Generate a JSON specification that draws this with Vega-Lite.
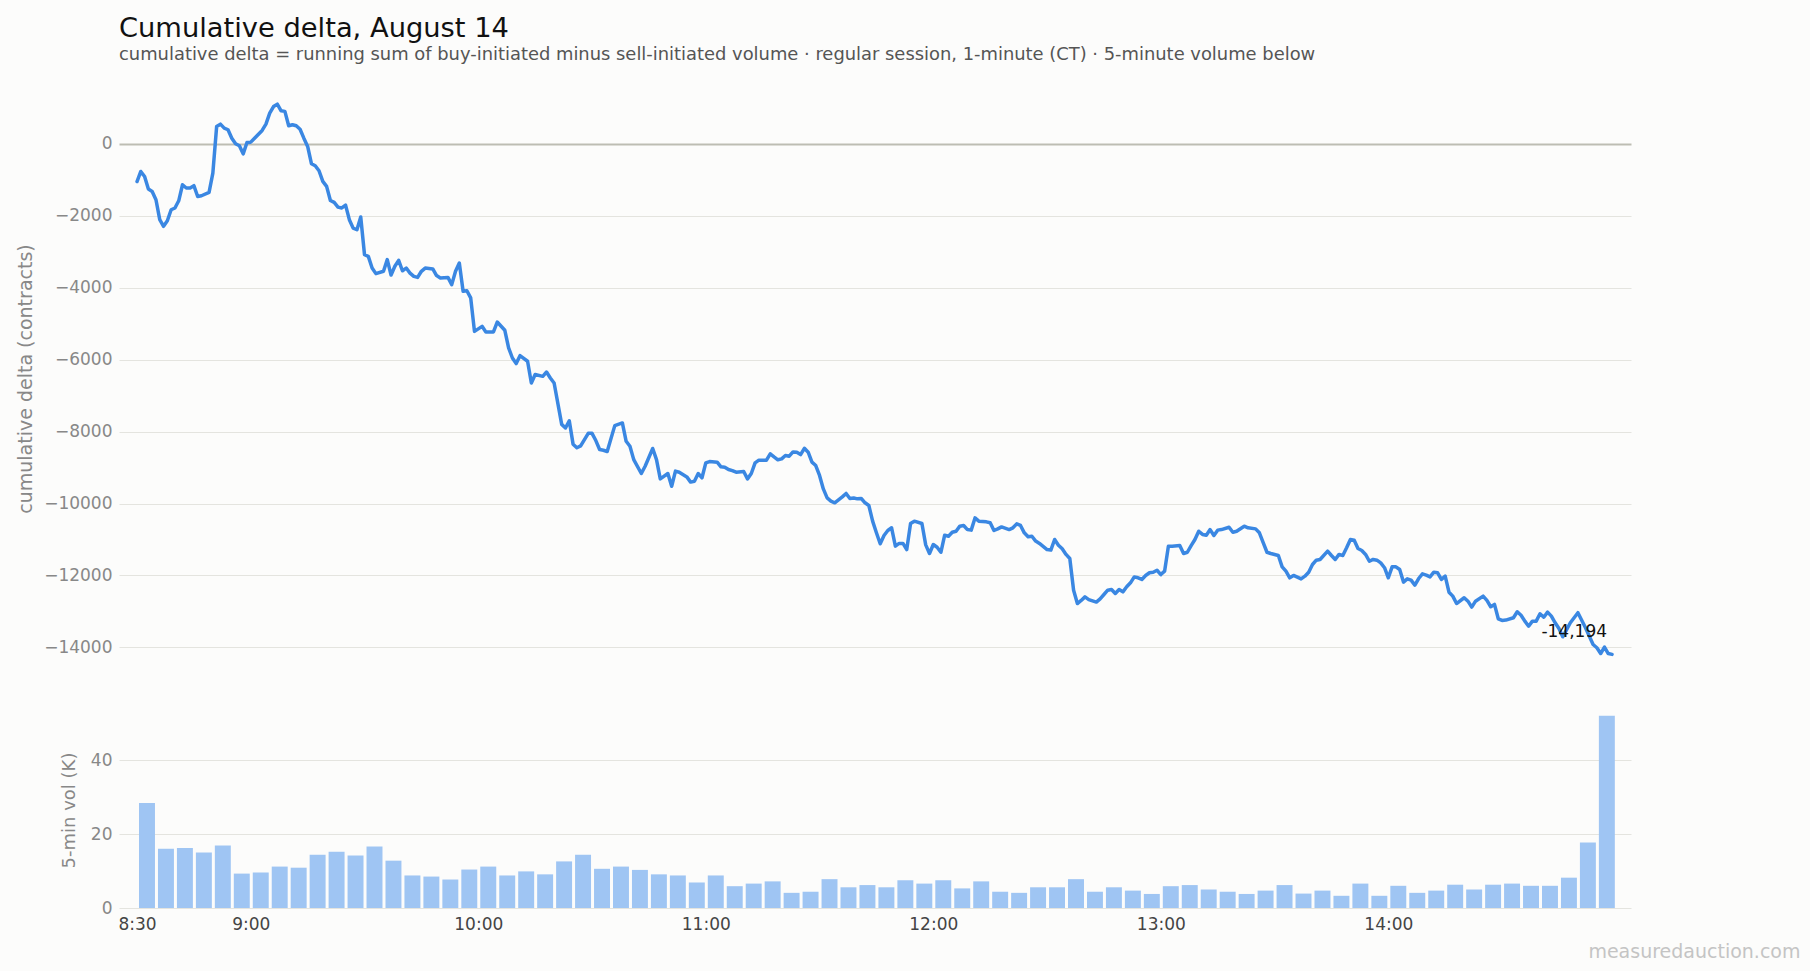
{
  "$schema": "https://vega.github.io/schema/vega-lite/v6.json",
  "background": "#fcfcfb",
  "padding": {"left": 16, "top": 14, "right": 10, "bottom": 10},
  "title": {
    "text": "Cumulative delta, August 14",
    "subtitle": "cumulative delta = running sum of buy-initiated minus sell-initiated volume · regular session, 1-minute (CT) · 5-minute volume below",
    "anchor": "start",
    "frame": "group",
    "fontSize": 27.3,
    "fontWeight": "normal",
    "color": "#111111",
    "subtitleFontSize": 17.9,
    "subtitleColor": "#555555",
    "subtitlePadding": 4,
    "offset": 33
  },
  "bounds": "flush",
  "spacing": 52,
  "vconcat": [
    {
      "width": 1512,
      "height": 563,
      "data": {
        "format": {"parse": {"t": "date:'%H:%M'"}},
        "values": [
          {"t":"08:30","v":-1050},{"t":"08:31","v":-770},{"t":"08:32","v":-910},{"t":"08:33","v":-1260},{"t":"08:34","v":-1325},
          {"t":"08:35","v":-1555},{"t":"08:36","v":-2110},{"t":"08:37","v":-2295},{"t":"08:38","v":-2140},{"t":"08:39","v":-1835},
          {"t":"08:40","v":-1785},{"t":"08:41","v":-1585},{"t":"08:42","v":-1140},{"t":"08:43","v":-1230},{"t":"08:44","v":-1230},
          {"t":"08:45","v":-1165},{"t":"08:46","v":-1465},{"t":"08:47","v":-1445},{"t":"08:49","v":-1350},{"t":"08:50","v":-815},
          {"t":"08:51","v":480},{"t":"08:52","v":545},{"t":"08:53","v":435},{"t":"08:54","v":390},{"t":"08:55","v":155},
          {"t":"08:56","v":0},{"t":"08:57","v":-55},{"t":"08:58","v":-280},{"t":"08:59","v":35},{"t":"09:00","v":45},
          {"t":"09:01","v":155},{"t":"09:03","v":370},{"t":"09:04","v":545},{"t":"09:05","v":850},{"t":"09:06","v":1035},
          {"t":"09:07","v":1100},{"t":"09:08","v":915},{"t":"09:09","v":900},{"t":"09:10","v":500},{"t":"09:11","v":530},
          {"t":"09:12","v":500},{"t":"09:13","v":405},{"t":"09:14","v":155},{"t":"09:15","v":-75},{"t":"09:16","v":-555},
          {"t":"09:17","v":-610},{"t":"09:18","v":-750},{"t":"09:19","v":-1045},{"t":"09:20","v":-1185},{"t":"09:21","v":-1575},
          {"t":"09:22","v":-1630},{"t":"09:23","v":-1760},{"t":"09:24","v":-1785},{"t":"09:25","v":-1705},{"t":"09:26","v":-2110},
          {"t":"09:27","v":-2345},{"t":"09:28","v":-2390},{"t":"09:29","v":-2035},{"t":"09:30","v":-3085},{"t":"09:31","v":-3130},
          {"t":"09:32","v":-3455},{"t":"09:33","v":-3610},{"t":"09:35","v":-3545},{"t":"09:36","v":-3220},{"t":"09:37","v":-3650},
          {"t":"09:38","v":-3405},{"t":"09:39","v":-3240},{"t":"09:40","v":-3530},{"t":"09:41","v":-3455},{"t":"09:42","v":-3595},
          {"t":"09:43","v":-3685},{"t":"09:44","v":-3715},{"t":"09:45","v":-3545},{"t":"09:46","v":-3455},{"t":"09:48","v":-3480},
          {"t":"09:49","v":-3665},{"t":"09:50","v":-3730},{"t":"09:52","v":-3715},{"t":"09:53","v":-3915},{"t":"09:54","v":-3545},
          {"t":"09:55","v":-3315},{"t":"09:56","v":-4100},{"t":"09:57","v":-4085},{"t":"09:58","v":-4285},{"t":"09:59","v":-5215},
          {"t":"10:01","v":-5075},{"t":"10:02","v":-5230},{"t":"10:04","v":-5230},{"t":"10:05","v":-4955},{"t":"10:07","v":-5185},
          {"t":"10:08","v":-5675},{"t":"10:09","v":-5955},{"t":"10:10","v":-6110},{"t":"10:11","v":-5890},{"t":"10:13","v":-6045},
          {"t":"10:14","v":-6650},{"t":"10:15","v":-6415},{"t":"10:17","v":-6465},{"t":"10:18","v":-6345},{"t":"10:19","v":-6510},
          {"t":"10:20","v":-6650},{"t":"10:22","v":-7800},{"t":"10:23","v":-7900},{"t":"10:24","v":-7700},{"t":"10:25","v":-8350},
          {"t":"10:26","v":-8450},{"t":"10:27","v":-8400},{"t":"10:29","v":-8050},{"t":"10:30","v":-8050},{"t":"10:31","v":-8250},
          {"t":"10:32","v":-8500},{"t":"10:33","v":-8520},{"t":"10:34","v":-8555},{"t":"10:36","v":-7835},{"t":"10:38","v":-7760},
          {"t":"10:39","v":-8270},{"t":"10:40","v":-8410},{"t":"10:41","v":-8780},{"t":"10:43","v":-9165},{"t":"10:44","v":-8965},
          {"t":"10:46","v":-8470},{"t":"10:47","v":-8780},{"t":"10:48","v":-9315},{"t":"10:50","v":-9165},{"t":"10:51","v":-9520},
          {"t":"10:52","v":-9100},{"t":"10:53","v":-9130},{"t":"10:55","v":-9260},{"t":"10:56","v":-9405},{"t":"10:57","v":-9380},
          {"t":"10:58","v":-9165},{"t":"10:59","v":-9285},{"t":"11:00","v":-8870},{"t":"11:01","v":-8835},{"t":"11:03","v":-8850},
          {"t":"11:04","v":-8980},{"t":"11:05","v":-8990},{"t":"11:06","v":-9055},{"t":"11:07","v":-9085},{"t":"11:08","v":-9130},
          {"t":"11:10","v":-9110},{"t":"11:11","v":-9315},{"t":"11:12","v":-9165},{"t":"11:13","v":-8870},{"t":"11:14","v":-8795},
          {"t":"11:16","v":-8795},{"t":"11:17","v":-8620},{"t":"11:18","v":-8705},{"t":"11:19","v":-8785},{"t":"11:20","v":-8760},
          {"t":"11:21","v":-8665},{"t":"11:22","v":-8685},{"t":"11:23","v":-8565},{"t":"11:24","v":-8575},{"t":"11:25","v":-8640},
          {"t":"11:26","v":-8465},{"t":"11:27","v":-8575},{"t":"11:28","v":-8850},{"t":"11:29","v":-8945},{"t":"11:30","v":-9220},
          {"t":"11:31","v":-9595},{"t":"11:32","v":-9845},{"t":"11:33","v":-9935},{"t":"11:34","v":-9980},{"t":"11:36","v":-9815},
          {"t":"11:37","v":-9720},{"t":"11:38","v":-9860},{"t":"11:39","v":-9845},{"t":"11:40","v":-9870},{"t":"11:41","v":-9860},
          {"t":"11:42","v":-9980},{"t":"11:43","v":-10055},{"t":"11:44","v":-10490},{"t":"11:45","v":-10815},{"t":"11:46","v":-11120},
          {"t":"11:47","v":-10890},{"t":"11:48","v":-10750},{"t":"11:49","v":-10675},{"t":"11:50","v":-11185},{"t":"11:51","v":-11110},
          {"t":"11:52","v":-11110},{"t":"11:53","v":-11280},{"t":"11:54","v":-10555},{"t":"11:55","v":-10490},{"t":"11:57","v":-10555},
          {"t":"11:58","v":-11150},{"t":"11:59","v":-11390},{"t":"12:00","v":-11140},{"t":"12:01","v":-11215},{"t":"12:02","v":-11355},
          {"t":"12:03","v":-10880},{"t":"12:04","v":-10910},{"t":"12:05","v":-10800},{"t":"12:06","v":-10770},{"t":"12:07","v":-10630},
          {"t":"12:08","v":-10610},{"t":"12:09","v":-10725},{"t":"12:10","v":-10740},{"t":"12:11","v":-10400},{"t":"12:12","v":-10490},
          {"t":"12:14","v":-10510},{"t":"12:15","v":-10535},{"t":"12:16","v":-10750},{"t":"12:17","v":-10705},{"t":"12:18","v":-10650},
          {"t":"12:20","v":-10725},{"t":"12:21","v":-10675},{"t":"12:22","v":-10565},{"t":"12:23","v":-10610},{"t":"12:24","v":-10815},
          {"t":"12:25","v":-10925},{"t":"12:26","v":-10910},{"t":"12:27","v":-11045},{"t":"12:28","v":-11110},{"t":"12:30","v":-11280},
          {"t":"12:31","v":-11295},{"t":"12:32","v":-11000},{"t":"12:33","v":-11160},{"t":"12:34","v":-11260},{"t":"12:35","v":-11415},
          {"t":"12:36","v":-11530},{"t":"12:37","v":-12410},{"t":"12:38","v":-12780},{"t":"12:39","v":-12695},{"t":"12:40","v":-12595},
          {"t":"12:41","v":-12670},{"t":"12:43","v":-12740},{"t":"12:44","v":-12650},{"t":"12:45","v":-12530},{"t":"12:46","v":-12410},
          {"t":"12:47","v":-12390},{"t":"12:48","v":-12500},{"t":"12:49","v":-12390},{"t":"12:50","v":-12455},{"t":"12:51","v":-12315},
          {"t":"12:52","v":-12205},{"t":"12:53","v":-12040},{"t":"12:54","v":-12065},{"t":"12:55","v":-12110},{"t":"12:56","v":-12000},
          {"t":"12:57","v":-11925},{"t":"12:58","v":-11910},{"t":"12:59","v":-11855},{"t":"13:00","v":-11975},{"t":"13:01","v":-11880},
          {"t":"13:02","v":-11185},{"t":"13:03","v":-11185},{"t":"13:05","v":-11170},{"t":"13:06","v":-11390},{"t":"13:07","v":-11355},
          {"t":"13:08","v":-11170},{"t":"13:09","v":-11000},{"t":"13:10","v":-10770},{"t":"13:11","v":-10860},{"t":"13:12","v":-10880},
          {"t":"13:13","v":-10725},{"t":"13:14","v":-10890},{"t":"13:15","v":-10740},{"t":"13:16","v":-10725},{"t":"13:18","v":-10660},
          {"t":"13:19","v":-10800},{"t":"13:20","v":-10770},{"t":"13:22","v":-10630},{"t":"13:23","v":-10675},{"t":"13:25","v":-10705},
          {"t":"13:26","v":-10815},{"t":"13:27","v":-11090},{"t":"13:28","v":-11355},{"t":"13:29","v":-11390},{"t":"13:31","v":-11445},
          {"t":"13:32","v":-11760},{"t":"13:33","v":-11880},{"t":"13:34","v":-12065},{"t":"13:35","v":-12000},{"t":"13:37","v":-12095},
          {"t":"13:38","v":-12020},{"t":"13:39","v":-11910},{"t":"13:40","v":-11695},{"t":"13:41","v":-11575},{"t":"13:42","v":-11555},
          {"t":"13:44","v":-11325},{"t":"13:45","v":-11445},{"t":"13:46","v":-11555},{"t":"13:47","v":-11415},{"t":"13:48","v":-11445},
          {"t":"13:49","v":-11230},{"t":"13:50","v":-11000},{"t":"13:51","v":-11020},{"t":"13:52","v":-11250},{"t":"13:53","v":-11305},
          {"t":"13:54","v":-11415},{"t":"13:55","v":-11605},{"t":"13:56","v":-11555},{"t":"13:57","v":-11575},{"t":"13:58","v":-11650},
          {"t":"13:59","v":-11785},{"t":"14:00","v":-12065},{"t":"14:01","v":-11760},{"t":"14:02","v":-11760},{"t":"14:03","v":-11835},
          {"t":"14:04","v":-12185},{"t":"14:05","v":-12095},{"t":"14:06","v":-12130},{"t":"14:07","v":-12270},{"t":"14:08","v":-12085},
          {"t":"14:09","v":-11955},{"t":"14:10","v":-11990},{"t":"14:11","v":-12040},{"t":"14:12","v":-11910},{"t":"14:13","v":-11925},
          {"t":"14:14","v":-12110},{"t":"14:15","v":-12020},{"t":"14:16","v":-12465},{"t":"14:17","v":-12575},{"t":"14:18","v":-12780},
          {"t":"14:20","v":-12620},{"t":"14:21","v":-12715},{"t":"14:22","v":-12880},{"t":"14:23","v":-12715},{"t":"14:25","v":-12575},
          {"t":"14:26","v":-12695},{"t":"14:27","v":-12870},{"t":"14:28","v":-12805},{"t":"14:29","v":-13205},{"t":"14:30","v":-13250},
          {"t":"14:31","v":-13240},{"t":"14:33","v":-13175},{"t":"14:34","v":-13010},{"t":"14:35","v":-13105},{"t":"14:36","v":-13270},
          {"t":"14:37","v":-13410},{"t":"14:38","v":-13270},{"t":"14:39","v":-13270},{"t":"14:40","v":-13065},{"t":"14:41","v":-13160},
          {"t":"14:42","v":-13020},{"t":"14:43","v":-13130},{"t":"14:44","v":-13315},{"t":"14:45","v":-13475},{"t":"14:46","v":-13705},
          {"t":"14:48","v":-13315},{"t":"14:50","v":-13035},{"t":"14:52","v":-13455},{"t":"14:54","v":-13920},{"t":"14:55","v":-14010},
          {"t":"14:56","v":-14170},{"t":"14:57","v":-13990},{"t":"14:58","v":-14170},{"t":"14:59","v":-14194}
        ]
      },
      "encoding": {
        "x": {
          "field": "t",
          "timeUnit": "hoursminutes",
          "type": "temporal",
          "scale": {"domain": [{"hours": 8, "minutes": 25, "seconds": 15}, {"hours": 15, "minutes": 4}]},
          "axis": null
        },
        "y": {
          "field": "v",
          "type": "quantitative",
          "scale": {"domain": [-14350, 1300], "nice": false, "zero": false},
          "axis": {
            "title": "cumulative delta (contracts)",
            "values": [-14000, -12000, -10000, -8000, -6000, -4000, -2000, 0],
            "format": "d",
            "labelPadding": 7,
            "titleFontSize": 19,
            "titlePadding": 8,
            "gridColor": {"condition": {"test": "datum.value === 0", "value": "#bdbdb3"}, "value": "#e4e4df"},
            "gridWidth": {"condition": {"test": "datum.value === 0", "value": 2}, "value": 1}
          }
        }
      },
      "layer": [
        {
          "mark": {"type": "line", "color": "#3a87e2", "strokeWidth": 3.5, "strokeJoin": "round", "strokeCap": "round"}
        },
        {
          "transform": [{"filter": {"field": "t", "timeUnit": "hoursminutes", "equal": {"hours": 14, "minutes": 59}}}],
          "mark": {
            "type": "text",
            "align": "right",
            "baseline": "alphabetic",
            "dx": -5,
            "dy": -17,
            "fontSize": 17,
            "color": "#111111",
            "text": {"expr": "replace(format(datum.v, ',d'), '\u2212', '-')"}
          }
        }
      ]
    },
    {
      "width": 1512,
      "height": 196,
      "data": {
        "format": {"parse": {"t": "date:'%H:%M'"}},
        "values": [
          {"t":"08:30","vol":28.4},{"t":"08:35","vol":16.0},{"t":"08:40","vol":16.2},{"t":"08:45","vol":15.0},{"t":"08:50","vol":16.9},
          {"t":"08:55","vol":9.3},{"t":"09:00","vol":9.6},{"t":"09:05","vol":11.2},{"t":"09:10","vol":10.9},{"t":"09:15","vol":14.4},
          {"t":"09:20","vol":15.2},{"t":"09:25","vol":14.2},{"t":"09:30","vol":16.6},{"t":"09:35","vol":12.8},{"t":"09:40","vol":8.8},
          {"t":"09:45","vol":8.5},{"t":"09:50","vol":7.7},{"t":"09:55","vol":10.4},{"t":"10:00","vol":11.2},{"t":"10:05","vol":8.8},
          {"t":"10:10","vol":9.9},{"t":"10:15","vol":9.1},{"t":"10:20","vol":12.6},{"t":"10:25","vol":14.4},{"t":"10:30","vol":10.6},
          {"t":"10:35","vol":11.2},{"t":"10:40","vol":10.3},{"t":"10:45","vol":9.1},{"t":"10:50","vol":8.8},{"t":"10:55","vol":6.9},
          {"t":"11:00","vol":8.8},{"t":"11:05","vol":5.9},{"t":"11:10","vol":6.6},{"t":"11:15","vol":7.2},{"t":"11:20","vol":4.1},
          {"t":"11:25","vol":4.4},{"t":"11:30","vol":7.8},{"t":"11:35","vol":5.6},{"t":"11:40","vol":6.2},{"t":"11:45","vol":5.6},
          {"t":"11:50","vol":7.5},{"t":"11:55","vol":6.6},{"t":"12:00","vol":7.5},{"t":"12:05","vol":5.3},{"t":"12:10","vol":7.2},
          {"t":"12:15","vol":4.4},{"t":"12:20","vol":4.1},{"t":"12:25","vol":5.6},{"t":"12:30","vol":5.6},{"t":"12:35","vol":7.8},
          {"t":"12:40","vol":4.4},{"t":"12:45","vol":5.6},{"t":"12:50","vol":4.7},{"t":"12:55","vol":3.8},{"t":"13:00","vol":5.9},
          {"t":"13:05","vol":6.2},{"t":"13:10","vol":5.0},{"t":"13:15","vol":4.4},{"t":"13:20","vol":3.8},{"t":"13:25","vol":4.7},
          {"t":"13:30","vol":6.2},{"t":"13:35","vol":3.9},{"t":"13:40","vol":4.7},{"t":"13:45","vol":3.3},{"t":"13:50","vol":6.6},
          {"t":"13:55","vol":3.3},{"t":"14:00","vol":6.0},{"t":"14:05","vol":4.1},{"t":"14:10","vol":4.7},{"t":"14:15","vol":6.3},
          {"t":"14:20","vol":5.0},{"t":"14:25","vol":6.3},{"t":"14:30","vol":6.6},{"t":"14:35","vol":6.0},{"t":"14:40","vol":6.0},
          {"t":"14:45","vol":8.2},{"t":"14:50","vol":17.7},{"t":"14:55","vol":52.0}
        ]
      },
      "mark": {"type": "bar", "color": "#9fc5f3", "binSpacing": 3},
      "encoding": {
        "x": {
          "field": "t",
          "timeUnit": {"unit": "hoursminutes", "step": 5},
          "type": "temporal",
          "scale": {"domain": [{"hours": 8, "minutes": 25, "seconds": 15}, {"hours": 15, "minutes": 4}]},
          "axis": {
            "values": [{"hours": 8, "minutes": 30}, {"hours": 9}, {"hours": 10}, {"hours": 11}, {"hours": 12}, {"hours": 13}, {"hours": 14}],
            "format": "%-H:%M",
            "grid": false,
            "labelColor": "#444444",
            "labelPadding": 8,
            "title": "measuredauction.com",
            "titleColor": "#c4c4c4",
            "titleFontSize": 19,
            "titleAlign": "right",
            "titleBaseline": "alphabetic",
            "titleX": 1681,
            "titleY": 49
          }
        },
        "y": {
          "field": "vol",
          "type": "quantitative",
          "scale": {"domain": [0, 53], "nice": false},
          "axis": {
            "title": "5-min vol (K)",
            "values": [0, 20, 40],
            "labelPadding": 7,
            "titlePadding": 12,
            "gridColor": "#e4e4df"
          }
        }
      }
    }
  ],
  "config": {
    "font": "DejaVu Sans",
    "view": {"stroke": null},
    "axis": {
      "domain": false,
      "ticks": false,
      "labelFontSize": 17,
      "labelColor": "#888888",
      "titleColor": "#888888",
      "titleFontSize": 18,
      "titleFontWeight": "normal"
    }
  }
}
